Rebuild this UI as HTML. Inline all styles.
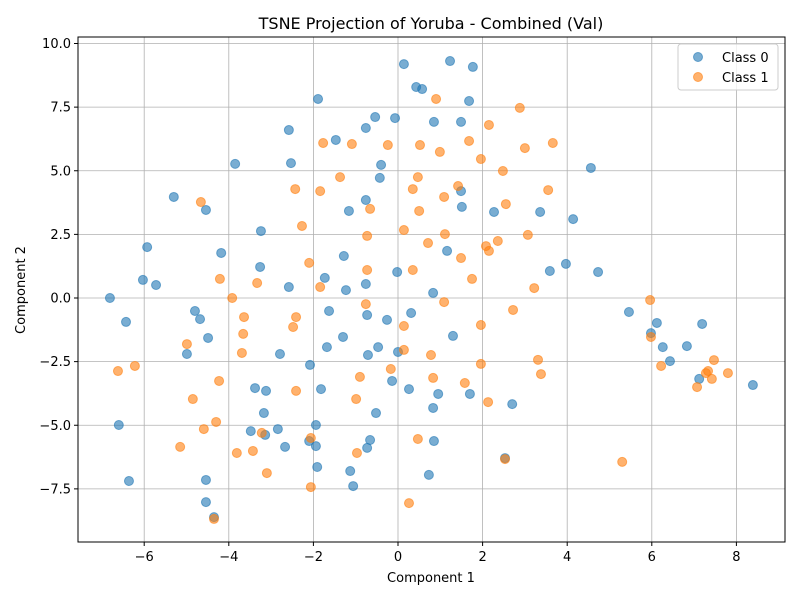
<!DOCTYPE html>
<html><head><meta charset="utf-8"><style>
body{margin:0;background:#fff}
svg{display:block;font-family:"DejaVu Sans","Liberation Sans",sans-serif}
</style></head><body>
<svg id="chart" width="800" height="600" xmlns="http://www.w3.org/2000/svg">
<rect width="800" height="600" fill="#fff"/>
<g id="grid"></g>
<g id="pts"></g>
<rect x="78" y="37" width="707" height="505" fill="none" stroke="#000" stroke-width="1"/>
<g id="ticks" font-size="13" fill="#000"></g>
<text x="431" y="29" font-size="16" text-anchor="middle">TSNE Projection of Yoruba - Combined (Val)</text>
<text x="431" y="582" font-size="13" text-anchor="middle">Component 1</text>
<text x="25" y="290" font-size="13" text-anchor="middle" transform="rotate(-90 25 290)">Component 2</text>
<g>
<rect x="678" y="44" width="100" height="46" rx="3" fill="#fff" fill-opacity="0.8" stroke="#ccc"/>
<circle cx="698" cy="57" r="4.5" fill="#1f77b4" fill-opacity="0.6" stroke="#1f77b4" stroke-opacity="0.6"/>
<text x="722" y="62" font-size="13">Class 0</text>
<circle cx="698" cy="77" r="4.5" fill="#ff7f0e" fill-opacity="0.6" stroke="#ff7f0e" stroke-opacity="0.6"/>
<text x="722" y="82" font-size="13">Class 1</text>
</g>
</svg>
<script>
const xTicks=[-6,-4,-2,0,2,4,6,8];
const yTicks=[-7.5,-5,-2.5,0,2.5,5,7.5,10];
const yTickLabels=["−7.5","−5.0","−2.5","0.0","2.5","5.0","7.5","10.0"];
const xTickLabels=["−6","−4","−2","0","2","4","6","8"];
const c0x=[-6.81,-6.43,-6.60,-6.36,-5.93,-6.03,-5.72,-5.30,-4.54,-4.99,-4.80,-4.68,-4.49,-4.18,-3.85,-4.54,-4.54,-4.35,-3.24,-3.26,-3.38,-3.17,-3.14,-3.12,-3.48,-2.79,-2.84,-2.67,-2.58,-2.53,-2.58,-2.08,-1.94,-1.82,-1.73,-1.63,-1.68,-1.89,-1.47,-1.28,-1.23,-1.30,-1.16,-2.10,-1.94,-1.91,-1.13,-1.06,-0.76,-0.76,-0.76,-0.73,-0.71,-0.66,-0.73,-0.54,-0.52,-0.47,-0.40,-0.43,-0.26,-0.14,-0.07,-0.02,0.00,0.14,0.26,0.31,0.43,0.57,0.73,0.83,0.85,0.83,0.85,0.95,1.16,1.30,1.23,1.49,1.49,1.51,1.68,1.77,1.70,2.27,2.70,3.36,3.59,3.97,4.14,4.56,4.73,5.46,5.98,6.12,6.26,6.43,6.83,7.19,7.12,8.39,2.53];
const c0y=[0.00,-0.94,-4.99,-7.19,2.00,0.71,0.51,3.97,3.46,-2.20,-0.51,-0.83,-1.57,1.77,5.27,-7.15,-8.02,-8.61,2.63,1.22,-3.54,-4.52,-5.38,-3.65,-5.23,-2.20,-5.15,-5.85,6.60,5.30,0.43,-2.63,-4.99,-3.58,0.79,-0.51,-1.93,7.82,6.21,1.65,0.31,-1.53,3.42,-5.62,-5.82,-6.64,-6.80,-7.39,6.68,3.85,0.55,-0.67,-2.24,-5.58,-5.89,7.11,-4.52,-1.93,5.23,4.72,-0.86,-3.26,7.07,1.02,-2.12,9.19,-3.58,-0.59,8.29,8.21,-6.95,-4.32,6.92,0.20,-5.62,-3.77,1.85,-1.49,9.31,6.92,4.20,3.58,7.74,9.08,-3.77,3.38,-4.17,3.38,1.06,1.34,3.10,5.11,1.02,-0.55,-1.38,-0.98,-1.93,-2.48,-1.89,-1.02,-3.18,-3.42,-6.29];
const c1x=[0.90,2.88,2.15,1.68,3.66,-1.77,-1.09,-0.24,0.52,0.99,3.00,1.96,-1.37,2.48,-2.43,-1.84,-4.66,0.47,0.35,1.42,1.09,3.55,-0.66,0.50,2.55,-2.27,0.14,0.71,-0.73,1.11,3.07,2.08,2.15,2.36,1.49,-2.10,-0.73,0.35,1.75,-4.21,-3.33,-1.84,3.22,-3.92,1.09,-0.76,2.72,-3.64,-2.41,-2.48,0.14,-3.66,-4.99,-3.69,0.14,0.78,1.96,3.31,3.38,1.96,5.96,5.98,6.22,7.47,7.28,7.42,7.33,7.07,7.80,-6.62,-6.22,-4.23,-0.90,-0.17,0.83,1.58,-2.41,-4.85,-0.99,2.13,-4.30,-4.59,-3.22,-2.06,0.47,-5.15,-3.81,-3.43,-0.97,2.53,5.30,-3.10,-2.06,0.26,-4.35];
const c1y=[7.82,7.47,6.80,6.17,6.09,6.09,6.05,6.01,6.01,5.74,5.89,5.46,4.75,4.99,4.28,4.20,3.77,4.75,4.28,4.40,3.97,4.24,3.50,3.42,3.69,2.83,2.67,2.16,2.44,2.51,2.48,2.04,1.85,2.24,1.57,1.38,1.10,1.10,0.75,0.75,0.59,0.43,0.39,0.00,-0.16,-0.24,-0.47,-0.75,-0.75,-1.14,-1.10,-1.41,-1.81,-2.16,-2.04,-2.24,-2.59,-2.43,-2.99,-1.06,-0.08,-1.53,-2.67,-2.44,-2.95,-3.18,-2.87,-3.50,-2.95,-2.87,-2.67,-3.26,-3.10,-2.79,-3.14,-3.34,-3.65,-3.97,-3.97,-4.09,-4.87,-5.15,-5.30,-5.50,-5.54,-5.85,-6.09,-6.01,-6.09,-6.33,-6.44,-6.88,-7.43,-8.06,-8.68];
const NS='http://www.w3.org/2000/svg';
const X=v=>398+v*42.3;
const Y=v=>298-v*25.45;
function mk(tag,attrs,parent){const e=document.createElementNS(NS,tag);for(const k in attrs)e.setAttribute(k,attrs[k]);parent.appendChild(e);return e;}
const grid=document.getElementById('grid'),ticks=document.getElementById('ticks'),pts=document.getElementById('pts');
xTicks.forEach((t,i)=>{
  const gl=mk('line',{x1:X(t),x2:X(t),y1:37,y2:542,stroke:'#b0b0b0','stroke-width':0.8},grid);
  
  
  const tk=mk('line',{x1:X(t),x2:X(t),y1:542,y2:546,stroke:'#000'},ticks);
  
  
  const tl=mk('text',{x:X(t),y:561,'text-anchor':'middle'},ticks);
  
  
  tl.textContent=xTickLabels[i];
});
yTicks.forEach((t,i)=>{
  const gl=mk('line',{x1:78,x2:785,y1:Y(t),y2:Y(t),stroke:'#b0b0b0','stroke-width':0.8},grid);
  
  
  const tk=mk('line',{x1:74,x2:78,y1:Y(t),y2:Y(t),stroke:'#000'},ticks);
  
  
  const tl=mk('text',{x:71,y:Y(t)+4.5,'text-anchor':'end'},ticks);
  
  
  tl.textContent=yTickLabels[i];
});
function series(xs,ys,col,name){
  xs.forEach((v,i)=>{
    const c=mk('circle',{cx:X(v),cy:Y(ys[i]),r:4.5,fill:col,'fill-opacity':0.6,stroke:col,'stroke-opacity':0.6},pts);
    
    
  });
}
series(c0x,c0y,'#1f77b4','class-0-point');
series(c1x,c1y,'#ff7f0e','class-1-point');
</script>
</body></html>
